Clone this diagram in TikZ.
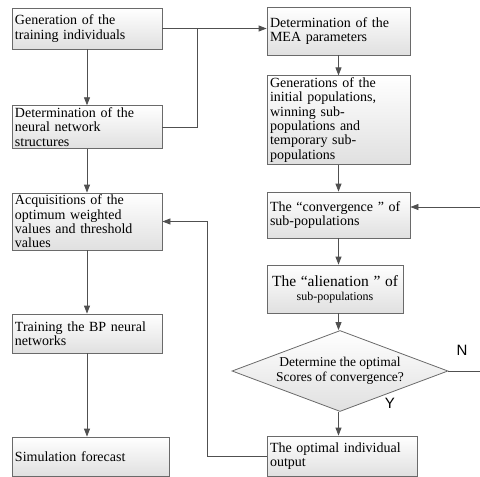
\documentclass[tikz,border=0pt]{standalone}
\usepackage{fontspec}
\setmainfont{Liberation Serif}
\newfontfamily\yesnofont{Liberation Sans}
\usepackage{xcolor}
\usepackage{tikz}
\usetikzlibrary{shapes.geometric, arrows.meta, positioning, calc, shadows}

\definecolor{boxline}{HTML}{6A6A6A}
\definecolor{boxfill}{HTML}{E0E0E0}
\definecolor{flowline}{HTML}{505050}

\tikzset{
  box/.style={draw=boxline, line width=0.8pt, top color=white, bottom color=boxfill,
              drop shadow={shadow xshift=1.2pt, shadow yshift=-1.2pt, opacity=0.4},
              inner xsep=3pt, inner ysep=2pt, align=left, text width=#1,
              font=\fontsize{14}{14.3}\selectfont},
  decision/.style={diamond, draw=boxline, line width=0.8pt, top color=white, bottom color=boxfill,
              aspect=2.7, inner sep=0pt, align=center,
              font=\fontsize{13.5}{14.5}\selectfont},
  flow/.style={draw=flowline, line width=0.8pt},
  arr/.style={flow, -{Triangle[length=8pt,width=6pt]}},
  yn/.style={font=\yesnofont\fontsize{15}{15}\selectfont}
}

\begin{document}
\begin{tikzpicture}[x=1pt, y=-1pt]
    \useasboundingbox (0,0) rectangle (480,477);

    % Left column
    \node[box=144pt, minimum height=41pt] (gen) at (87,28.5) {Generation of the\\training individuals};
    \node[box=144pt, minimum height=42pt] (nnet) at (87,127) {Determination of the\\neural network\\structures};
    \node[box=144pt, minimum height=57pt] (acq) at (87,221.5) {Acquisitions of the\\optimum weighted\\values and threshold\\values};
    \node[box=144pt, minimum height=39pt] (train) at (87,333.5) {Training the BP neural\\networks};
    \node[box=151pt, minimum height=39pt] (sim) at (90.5,456.5) {Simulation forecast};

    % Right column
    \node[box=137pt, minimum height=48pt] (mea) at (338.5,31) {Determination of the\\MEA parameters};
    \node[box=137pt, minimum height=86pt] (initp) at (338.5,120) {Generations of the\\initial populations,\\winning sub-\\populations and\\temporary sub-\\populations};
    \node[box=137pt, minimum height=46pt] (conv) at (338.5,215) {The “convergence ” of\\sub-populations};
    \node[box=130pt, minimum height=48pt, align=center] (alien) at (335,289)
      {{\fontsize{15.5}{17}\selectfont The “alienation ” of}\\{\fontsize{12}{15}\selectfont sub-populations}};
    \node[decision, minimum width=216pt, minimum height=81pt] (dec) at (340,371) {Determine the optimal\\Scores of convergence?};
    \node[box=144pt, minimum height=40pt] (opt) at (342,456) {The optimal individual\\output};

    % Free ends at the right border and the merge point
    \coordinate (join) at (197,28.5);
    \coordinate (nout) at (480,371);
    \coordinate (nin) at (480,207);

    % Connectors
    \draw[arr] (gen) -- (nnet);
    \draw[arr] (nnet) -- (acq);
    \draw[arr] (acq) -- (train);
    \draw[arr] (train.south) -- (sim.north -| train.south);
    \draw[arr] (gen.east) -- (gen.east -| mea.west);
    \draw[flow] (nnet.east) -| (join);

    \draw[arr] (mea) -- (initp);
    \draw[arr] (initp) -- (conv);
    \draw[arr] (conv.south) -- (alien.north -| conv.south);
    \draw[arr] (alien.south -| conv.south) -- (dec.north -| conv.south);
    \draw[arr] (dec.south -| conv.south) -- (opt.north -| conv.south);
    \draw[flow] (dec.east) -- (nout);
    \draw[arr] (nin) -- (nin -| conv.east);
    \draw[arr] (opt.west) -- ++(-59,0) |- (acq.east);

    % Branch labels
    \node[yn] (nlab) at (462,350) {N};
    \node[yn] (ylab) at (390,403) {Y};
\end{tikzpicture}
\end{document}
